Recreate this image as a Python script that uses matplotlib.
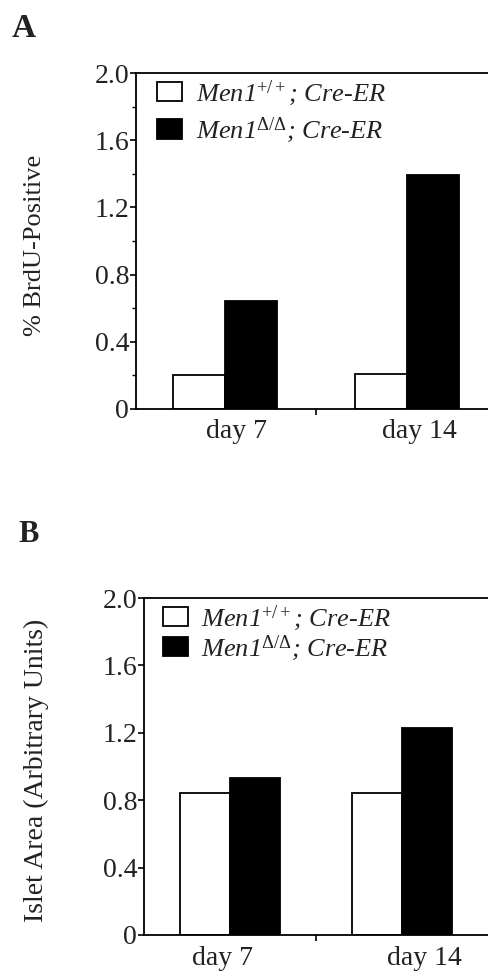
import numpy as np
import matplotlib
matplotlib.use("Agg")
import matplotlib.pyplot as plt
from matplotlib.patches import Patch
from matplotlib.ticker import MultipleLocator, FixedLocator
import matplotlib.transforms as mtrans

plt.rcParams['font.family'] = 'Liberation Serif'
plt.rcParams['mathtext.fontset'] = 'custom'
plt.rcParams['mathtext.rm'] = 'Liberation Serif'
plt.rcParams['mathtext.it'] = 'Liberation Serif:italic'
plt.rcParams['text.color'] = '#222222'
plt.rcParams['xtick.labelcolor'] = '#222222'
plt.rcParams['ytick.labelcolor'] = '#222222'

# donnees
jours = ['day 7', 'day 14']
lab_wt = r'Men1$^{+/+}$; Cre-ER'
lab_ko = r'Men1$^{\Delta/\Delta}$; Cre-ER'
brdu_wt = [0.20, 0.21]
brdu_ko = [0.64, 1.39]
ilot_wt = [0.84, 0.84]
ilot_ko = [0.93, 1.23]
yticks = [0, 0.4, 0.8, 1.2, 1.6, 2.0]
ytick_lab = ['0', '0.4', '0.8', '1.2', '1.6', '2.0']

W, H = 488, 975
fig = plt.figure(figsize=(W/100, H/100), dpi=100)

def axe(l, t, r, b):
    return fig.add_axes([l/W, 1-b/H, (r-l)/W, (b-t)/H])

def panneau(ax, wt, ko, bw, xlim, minor, leg_y, lsp, decal, xpad):
    x = np.arange(len(jours))
    ax.bar(x-bw/2, wt, bw, color='white', edgecolor='black', linewidth=1.3)
    ax.bar(x+bw/2, ko, bw, color='black', edgecolor='black', linewidth=1.3)
    ax.set_xlim(*xlim)
    ax.set_ylim(0, 2.0)
    ax.set_yticks(yticks)
    ax.set_yticklabels(ytick_lab, fontsize=20)
    if minor:
        ax.yaxis.set_minor_locator(MultipleLocator(0.2))
    ax.set_xticks(x)
    ax.set_xticklabels(jours, fontsize=20)
    ax.tick_params(axis='x', which='major', length=0, pad=xpad)
    ax.xaxis.set_minor_locator(FixedLocator([0.5]))
    ax.tick_params(axis='x', which='minor', length=4, width=1.2)
    ax.tick_params(axis='y', which='major', length=4, width=1.2, pad=1)
    ax.tick_params(axis='y', which='minor', length=3, width=1.0)
    for lbl, d in zip(ax.get_xticklabels(), decal):
        lbl.set_transform(lbl.get_transform() +
                          mtrans.ScaledTranslation(d/100, 0, fig.dpi_scale_trans))
    for s in ax.spines.values():
        s.set_linewidth(1.3)
    hd = [Patch(facecolor='white', edgecolor='black', linewidth=1.3),
          Patch(facecolor='black', edgecolor='black', linewidth=1.3)]
    ax.legend(hd, [lab_wt, lab_ko], loc='upper left', bbox_to_anchor=leg_y,
              frameon=False, prop={'style': 'italic', 'size': 19},
              handlelength=0.95, handleheight=0.76, handletextpad=0.5,
              labelspacing=lsp, borderaxespad=0, borderpad=0)

axA = axe(136, 73, 492, 409)
panneau(axA, brdu_wt, brdu_ko, 0.286, (-0.489, 1.467), True,
        (0.06, 0.985), 0.3, [12, 12], 7)
axB = axe(144, 598, 492, 935)
panneau(axB, ilot_wt, ilot_ko, 0.29, (-0.5, 1.52), False,
        (0.055, 0.985), 0.02, [-8, 22], 8)

fig.text(35/W, 1-245/H, '% BrdU-Positive', rotation=90, ha='center', va='center', fontsize=19)
fig.text(36/W, 1-770/H, 'Islet Area (Arbitrary Units)', rotation=90, ha='center', va='center', fontsize=20)

fig.text(12/W, 1-37/H, 'A', fontsize=24, fontweight='bold', va='baseline')
fig.text(18/W, 1-542/H, 'B', fontsize=22, fontweight='bold', va='baseline')

fig.savefig('out.png', dpi=100)
